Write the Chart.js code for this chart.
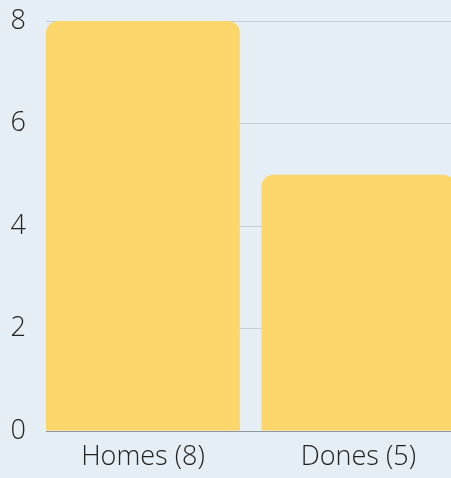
<!DOCTYPE html>
<html lang="en">

<head>
  <meta charset="UTF-8">
  <title>Homes / Dones</title>
  <script src="https://cdn.jsdelivr.net/npm/chart.js"></script>
  <style>
    html, body {
      margin: 0;
      padding: 0;
      background: #e5eef4;
      overflow: hidden;
    }
    .chart-box {
      width: 451px;
      height: 478px;
      position: relative;
    }
  </style>
</head>

<body>
  <div class="chart-box">
    <canvas id="bars"></canvas>
  </div>

  <script>
    // chart data
    const categories = ['Homes (8)', 'Dones (5)'];
    const counts = [8, 5];
    const yTicks = [0, 2, 4, 6, 8];

    // bars sit on a linear x scale so the first one starts right at the axis
    const points = counts.map((v, i) => ({ x: i, y: v }));

    const textFont = { family: "'Open Sans'", size: 27, weight: 300 };

    new Chart(document.getElementById('bars'), {
      type: 'bar',
      data: {
        datasets: [{
          data: points,
          backgroundColor: '#fdd66b',
          borderRadius: 12,
          borderSkipped: 'start',
          categoryPercentage: 1,
          barPercentage: 0.9
        }]
      },
      options: {
        responsive: true,
        maintainAspectRatio: false,
        animation: false,
        layout: { padding: { left: 11, top: 0, right: 0, bottom: 0 } },
        plugins: {
          legend: { display: false },
          tooltip: { enabled: false }
        },
        scales: {
          x: {
            type: 'linear',
            offset: false,
            min: -0.45,
            max: 1.43,
            afterFit: (scale) => { scale.height = 47; },
            grid: { display: false, drawTicks: false, offset: false },
            border: { display: true, color: '#8e979c', width: 1 },
            afterBuildTicks: (scale) => {
              scale.ticks = categories.map((c, i) => ({ value: i }));
            },
            ticks: {
              autoSkip: false,
              maxRotation: 0,
              padding: 10,
              color: '#222',
              font: textFont,
              callback: (v) => categories[v]
            }
          },
          y: {
            min: yTicks[0],
            max: yTicks[yTicks.length - 1],
            afterFit: (scale) => {
              scale.width = 35;
              scale.paddingTop = 21;
              scale.paddingBottom = 0;
            },
            grid: { color: '#c5cdd2', drawTicks: false },
            border: { display: false },
            ticks: {
              stepSize: 2,
              padding: 20,
              color: '#222',
              font: textFont
            }
          }
        }
      }
    });
  </script>
</body>

</html>
